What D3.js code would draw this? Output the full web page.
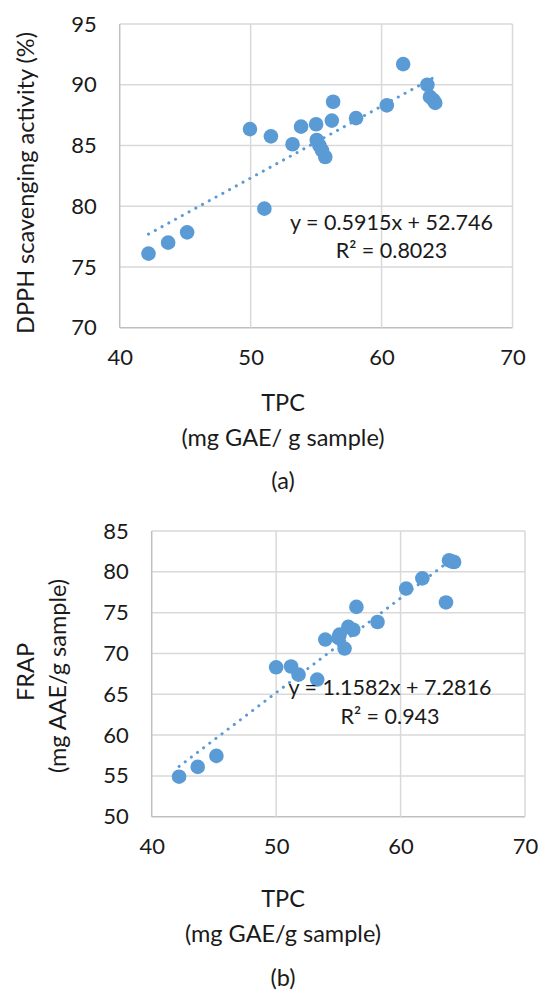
<!DOCTYPE html>
<html>
<head>
<meta charset="utf-8">
<script src="https://cdn.jsdelivr.net/npm/d3@7"></script>
<style>
  html, body { margin: 0; padding: 0; background: #fff; }
  svg text { font-family: Lato, "Open Sans", sans-serif; fill: #1a1a1a; }
</style>
</head>
<body>
<svg id="chart" width="541" height="990"></svg>
<script>
// ---- Data (a) DPPH vs TPC ----
const tpcA = [42.2, 43.7, 45.15, 49.95, 51.05, 51.55, 53.2, 53.85, 55.0, 55.05, 55.25, 55.45, 55.7, 56.2, 56.3, 58.05, 60.4, 61.65, 63.5, 63.7, 63.95, 64.1];
const dpph = [76.1, 77.0, 77.85, 86.35, 79.8, 85.75, 85.1, 86.55, 86.75, 85.45, 85.0, 84.6, 84.05, 87.05, 88.6, 87.25, 88.3, 91.7, 90.0, 89.0, 88.75, 88.5];
const eqA = ["y = 0.5915x + 52.746", "R\u00B2 = 0.8023"];
const slopeA = 0.5915, interceptA = 52.746;

// ---- Data (b) FRAP vs TPC ----
const tpcB = [42.2, 43.7, 45.2, 50.0, 51.2, 51.8, 53.3, 53.95, 55.0, 55.1, 55.5, 55.8, 56.2, 56.45, 58.15, 60.45, 61.75, 63.65, 63.9, 64.15, 64.3];
const frap = [54.9, 56.1, 57.45, 68.3, 68.4, 67.4, 66.8, 71.7, 71.9, 72.3, 70.6, 73.25, 72.9, 75.7, 73.85, 77.95, 79.2, 76.25, 81.4, 81.25, 81.2];
const eqB = ["y = 1.1582x + 7.2816", "R\u00B2 = 0.943"];
const slopeB = 1.1582, interceptB = 7.2816;

// ---- Axis ticks ----
const xTicks = [40, 50, 60, 70];
const yTicksA = [70, 75, 80, 85, 90, 95];
const yTicksB = [50, 55, 60, 65, 70, 75, 80, 85];

const svg = d3.select("#chart");
const pointColor = "#5b9bd5";
const gridColor = "#d9d9d9";
const axisColor = "#bfbfbf";

function panel(cfg) {
  const g = svg.append("g");
  const x = d3.scaleLinear().domain([40, 70]).range([cfg.left, cfg.right]);
  const y = d3.scaleLinear().domain(cfg.yDomain).range([cfg.bottom, cfg.top]);

  // gridlines
  g.append("g").selectAll("line.h").data(cfg.yTicks).join("line")
    .attr("x1", x(40)).attr("x2", x(70))
    .attr("y1", d => y(d)).attr("y2", d => y(d))
    .attr("stroke", (d, i) => i === 0 ? axisColor : gridColor).attr("stroke-width", 1.5);
  g.append("g").selectAll("line.v").data(xTicks).join("line")
    .attr("x1", d => x(d)).attr("x2", d => x(d))
    .attr("y1", y(cfg.yDomain[0])).attr("y2", y(cfg.yDomain[1]))
    .attr("stroke", (d, i) => i === 0 ? axisColor : gridColor).attr("stroke-width", 1.5);

  // axes (labels only)
  const yAxis = d3.axisLeft(y).tickValues(cfg.yTicks).tickSize(0).tickPadding(cfg.yPad);
  const ya = g.append("g").attr("transform", `translate(${x(40)},0)`).call(yAxis);
  ya.select(".domain").remove();
  ya.selectAll("text").style("font-size", cfg.fs + "px").attr("fill", "#1a1a1a");

  const xAxis = d3.axisBottom(x).tickValues(xTicks).tickSize(0).tickPadding(cfg.xPad);
  const xa = g.append("g").attr("transform", `translate(0,${y(cfg.yDomain[0])})`).call(xAxis);
  xa.select(".domain").remove();
  xa.selectAll("text").style("font-size", cfg.fs + "px").attr("fill", "#1a1a1a");

  // points
  g.append("g").selectAll("circle").data(cfg.xs).join("circle")
    .attr("cx", d => x(d)).attr("cy", (d, i) => y(cfg.ys[i]))
    .attr("r", 7.3).attr("fill", pointColor);

  // trendline
  const [xmin, xmax] = d3.extent(cfg.xs);
  g.append("line")
    .attr("x1", x(xmin)).attr("y1", y(cfg.slope * xmin + cfg.intercept))
    .attr("x2", x(xmax)).attr("y2", y(cfg.slope * xmax + cfg.intercept))
    .attr("stroke", pointColor).attr("stroke-width", 3)
    .attr("stroke-linecap", "round").attr("stroke-dasharray", "0.1 7.6");

  // equation
  g.append("g").selectAll("text").data(cfg.eq).join("text")
    .attr("x", cfg.eqX).attr("y", (d, i) => cfg.eqY + i * cfg.eqDy)
    .attr("text-anchor", "middle").attr("dominant-baseline", "central")
    .style("font-size", cfg.eqFs + "px").text(d => d);

  // x title
  g.append("g").selectAll("text").data(cfg.xTitle).join("text")
    .attr("x", cfg.titleX).attr("y", (d, i) => cfg.xTitleY[i])
    .attr("text-anchor", "middle").attr("dominant-baseline", "central")
    .style("font-size", cfg.titleFs + "px").text(d => d);

  // y title
  cfg.yTitle.forEach((t, i) => {
    g.append("text")
      .attr("transform", `translate(${cfg.yTitlePos[i][0]},${cfg.yTitlePos[i][1]}) rotate(-90)`)
      .attr("text-anchor", "middle").attr("dominant-baseline", "central")
      .style("font-size", cfg.titleFs + "px").text(t);
  });
}

panel({
  left: 119.7, right: 512.5, top: 24, bottom: 327.7,
  yDomain: [70, 95], yTicks: yTicksA, xs: tpcA, ys: dpph,
  slope: slopeA, intercept: interceptA, eq: eqA,
  eqX: 391.5, eqY: 221.5, eqDy: 28.5,
  fs: 22, eqFs: 21.5, titleFs: 23.5, yPad: 23, xPad: 22,
  titleX: 283, xTitle: ["TPC", "(mg GAE/ g sample)", "(a)"], xTitleY: [402, 437, 480],
  yTitle: ["DPPH scavenging activity (%)"], yTitlePos: [[25, 183]]
});

panel({
  left: 151.7, right: 525, top: 531, bottom: 816.7,
  yDomain: [50, 85], yTicks: yTicksB, xs: tpcB, ys: frap,
  slope: slopeB, intercept: interceptB, eq: eqB,
  eqX: 390, eqY: 686.5, eqDy: 29.5,
  fs: 22, eqFs: 21.5, titleFs: 23.5, yPad: 23, xPad: 22,
  titleX: 283, xTitle: ["TPC", "(mg GAE/g sample)", "(b)"], xTitleY: [898, 933, 977],
  yTitle: ["FRAP", "(mg AAE/g sample)"], yTitlePos: [[25, 672], [57, 676]]
});
</script>
</body>
</html>
